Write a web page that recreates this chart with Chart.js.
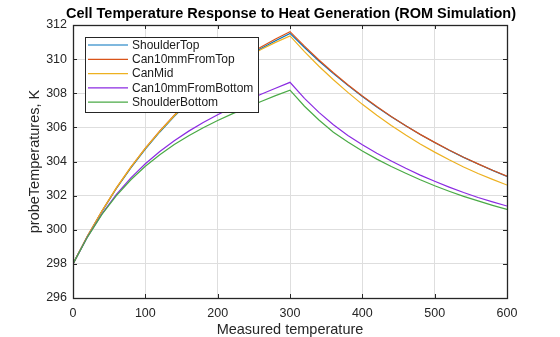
<!DOCTYPE html>
<html>
<head>
<meta charset="utf-8">
<script src="https://cdn.jsdelivr.net/npm/chart.js@4/dist/chart.umd.min.js"></script>
<style>
  html, body { margin: 0; padding: 0; background: #fff; }
  #wrap { width: 560px; height: 337px; position: relative; }
</style>
</head>
<body>
<div id="wrap"><canvas id="tempChart"></canvas></div>
<script>
// time axis (s) and probe temperatures (K)
const times = [0, 20, 40, 60, 80, 100, 120, 140, 160, 180, 200, 220, 240, 260, 280, 300,
               320, 340, 360, 380, 400, 420, 440, 460, 480, 500, 520, 540, 560, 580, 600];

const shoulderTop = [298, 299.62, 301.08, 302.42, 303.63, 304.73, 305.73, 306.65, 307.47, 308.22, 308.91, 309.53, 310.10, 310.62, 311.08, 311.51,
                     310.68, 309.89, 309.15, 308.46, 307.81, 307.20, 306.62, 306.09, 305.58, 305.11, 304.66, 304.24, 303.85, 303.48, 303.13];
const can10mmFromTop = [298, 299.63, 301.10, 302.45, 303.67, 304.78, 305.79, 306.71, 307.55, 308.30, 308.99, 309.62, 310.19, 310.71, 311.18, 311.61,
                        310.76, 309.95, 309.20, 308.50, 307.84, 307.22, 306.64, 306.10, 305.59, 305.12, 304.67, 304.25, 303.86, 303.49, 303.14];
const canMid = [298, 299.63, 301.10, 302.45, 303.67, 304.77, 305.77, 306.68, 307.50, 308.24, 308.91, 309.52, 310.07, 310.56, 310.98, 311.36,
                310.44, 309.58, 308.79, 308.05, 307.35, 306.71, 306.11, 305.55, 305.03, 304.55, 304.10, 303.68, 303.30, 302.95, 302.62];
const can10mmFromBottom = [298, 299.58, 300.93, 302.07, 303.04, 303.87, 304.59, 305.22, 305.78, 306.28, 306.74, 307.17, 307.57, 307.94, 308.29, 308.64,
                           307.70, 306.88, 306.15, 305.53, 304.98, 304.48, 304.03, 303.60, 303.20, 302.84, 302.50, 302.18, 301.89, 301.63, 301.39];
const shoulderBottom = [298, 299.57, 300.90, 302.00, 302.93, 303.72, 304.40, 304.99, 305.51, 305.98, 306.40, 306.79, 307.16, 307.52, 307.86, 308.18,
                        307.24, 306.43, 305.72, 305.14, 304.62, 304.14, 303.71, 303.31, 302.93, 302.58, 302.26, 301.96, 301.69, 301.43, 301.19];

const seriesNames = ['ShoulderTop', 'Can10mmFromTop', 'CanMid', 'Can10mmFromBottom', 'ShoulderBottom'];
const seriesValues = [shoulderTop, can10mmFromTop, canMid, can10mmFromBottom, shoulderBottom];
const seriesColors = ['#0072BD', '#D95319', '#EDB120', '#8B2BE2', '#4AAA46'];

const xTicks = [0, 100, 200, 300, 400, 500, 600];
const yTicks = [296, 298, 300, 302, 304, 306, 308, 310, 312];

const chartTitle = 'Cell Temperature Response to Heat Generation (ROM Simulation)';

const FONT = "'Liberation Sans', Arial, sans-serif";
const AXIS_COLOR = '#262626';

// MATLAB-style title over the axes, box, inward ticks and legend inside the axes
const boxPlugin = {
    id: 'matlabBox',
    afterDraw(chart) {
        const ctx = chart.ctx;
        const a = chart.chartArea;
        const xs = chart.scales.x, ys = chart.scales.y;
        ctx.save();

        ctx.font = 'bold 14.5px ' + FONT;
        ctx.fillStyle = '#000';
        ctx.textAlign = 'center';
        ctx.textBaseline = 'middle';
        ctx.fillText(chartTitle, (a.left + a.right) / 2 + 1, 14);

        ctx.strokeStyle = AXIS_COLOR;
        ctx.lineWidth = 1;
        ctx.beginPath();
        xs.ticks.forEach(t => {
            const px = Math.round(xs.getPixelForValue(t.value)) + 0.5;
            ctx.moveTo(px, a.bottom); ctx.lineTo(px, a.bottom - 4);
            ctx.moveTo(px, a.top); ctx.lineTo(px, a.top + 4);
        });
        ys.ticks.forEach(t => {
            const py = Math.round(ys.getPixelForValue(t.value)) + 0.5;
            ctx.moveTo(a.left, py); ctx.lineTo(a.left + 4, py);
            ctx.moveTo(a.right, py); ctx.lineTo(a.right - 4, py);
        });
        ctx.stroke();
        ctx.lineWidth = 1.3;
        ctx.strokeRect(Math.round(a.left) + 0.5, Math.round(a.top) + 0.5,
                       Math.round(a.right - a.left), Math.round(a.bottom - a.top));

        // legend
        ctx.font = '12px ' + FONT;
        const sets = chart.data.datasets;
        let maxW = 0;
        sets.forEach(d => { maxW = Math.max(maxW, ctx.measureText(d.label).width); });
        const lx = Math.round(a.left) + 12, ly = Math.round(a.top) + 12;
        const rowH = 14.3;
        const w = Math.round(47 + maxW + 5), h = Math.round(rowH * sets.length + 3);
        ctx.fillStyle = '#fff';
        ctx.fillRect(lx, ly, w, h);
        ctx.lineWidth = 1;
        ctx.strokeStyle = AXIS_COLOR;
        ctx.strokeRect(lx + 0.5, ly + 0.5, w, h);
        ctx.textBaseline = 'middle';
        ctx.textAlign = 'left';
        sets.forEach((d, i) => {
            const y = ly + 8 + i * rowH;
            ctx.strokeStyle = d.borderColor;
            ctx.lineWidth = 1.2;
            ctx.beginPath();
            ctx.moveTo(lx + 3, y); ctx.lineTo(lx + 43, y);
            ctx.stroke();
            ctx.fillStyle = '#1a1a1a';
            ctx.fillText(d.label, lx + 47, y + 0.5);
        });
        ctx.restore();
    }
};

const datasets = seriesNames.map((name, i) => ({
    label: name,
    data: times.map((t, j) => ({ x: t, y: seriesValues[i][j] })),
    borderColor: seriesColors[i],
    backgroundColor: seriesColors[i],
    borderWidth: 1.2,
    pointRadius: 0,
    tension: 0,
    fill: false,
    order: seriesNames.length - i
}));

new Chart(document.getElementById('tempChart'), {
    type: 'line',
    data: { datasets: datasets },
    options: {
        responsive: true,
        maintainAspectRatio: false,
        animation: false,
        layout: { padding: { left: 0, right: 53, top: 25, bottom: 0 } },
        plugins: {
            legend: { display: false },
            tooltip: { enabled: false },
            title: { display: false }
        },
        scales: {
            x: {
                type: 'linear',
                min: 0,
                max: 600,
                afterBuildTicks: s => { s.ticks = xTicks.map(v => ({ value: v })); },
                afterFit: s => { s.height = 39; },
                grid: { color: '#dedede', drawTicks: false, lineWidth: 1 },
                border: { display: false },
                ticks: { color: AXIS_COLOR, padding: 8, font: { family: FONT, size: 12.5 } },
                title: {
                    display: true,
                    text: 'Measured temperature',
                    color: AXIS_COLOR,
                    font: { family: FONT, size: 14.5 },
                    padding: { top: 0, bottom: -2 }
                }
            },
            y: {
                min: 296,
                max: 312,
                afterBuildTicks: s => { s.ticks = yTicks.map(v => ({ value: v })); },
                afterFit: s => { s.width = 73; },
                grid: { color: '#dedede', drawTicks: false, lineWidth: 1 },
                border: { display: false },
                ticks: { color: AXIS_COLOR, padding: 6, font: { family: FONT, size: 12.5 } },
                title: {
                    display: true,
                    text: 'probeTemperatures, K',
                    color: AXIS_COLOR,
                    font: { family: FONT, size: 14.5 },
                    padding: { top: 26, bottom: 0 }
                }
            }
        }
    },
    plugins: [boxPlugin]
});
</script>
</body>
</html>
